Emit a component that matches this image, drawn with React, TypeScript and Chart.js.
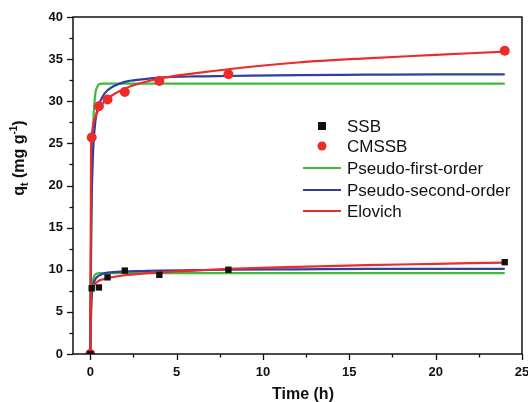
import React, { useEffect, useRef } from "react";
import { Chart, registerables } from "chart.js";

Chart.register(...registerables);

// Experimental data
const timeObs = [0, 0.083, 0.5, 1, 2, 4, 8, 24];
const ssbObs = [0, 7.8, 7.9, 9.1, 9.9, 9.4, 10.0, 10.9];
const cmssbObs = [0, 25.7, 29.4, 30.2, 31.1, 32.4, 33.2, 36.0];

// Model curves
const tFit = [0, 0.05, 0.1, 0.15, 0.2, 0.3, 0.4, 0.5, 0.7, 1, 2, 3, 4, 6, 8, 12, 16, 20, 24];
const cmssbPFO = [0, 12.5, 20.5, 26.0, 28.5, 31.0, 31.7, 32.0, 32.1, 32.1, 32.1, 32.1, 32.1, 32.1, 32.1, 32.1, 32.1, 32.1, 32.1];
const cmssbPSO = [0, 14.6, 20.3, 23.4, 25.4, 27.7, 28.9, 29.6, 30.5, 31.3, 32.3, 32.6, 32.8, 32.95, 33.0, 33.1, 33.15, 33.2, 33.2];
const cmssbElo = [0, 25.0, 26.2, 27.0, 27.5, 28.2, 28.7, 29.1, 29.7, 30.3, 31.5, 32.2, 32.7, 33.3, 33.8, 34.6, 35.1, 35.5, 35.9];
const ssbPFO = [0, 5.0, 7.5, 8.6, 9.1, 9.45, 9.55, 9.6, 9.6, 9.6, 9.6, 9.6, 9.6, 9.6, 9.6, 9.6, 9.6, 9.6, 9.6];
const ssbPSO = [0, 5.5, 7.2, 7.9, 8.4, 8.9, 9.15, 9.3, 9.5, 9.65, 9.8, 9.85, 9.9, 9.95, 10.0, 10.05, 10.1, 10.1, 10.1];
const ssbElo = [0, 7.2, 7.7, 7.95, 8.1, 8.4, 8.55, 8.7, 8.85, 9.0, 9.35, 9.55, 9.7, 9.9, 10.1, 10.35, 10.55, 10.7, 10.85];

const xTicks = [0, 5, 10, 15, 20, 25];
const yTicks = [0, 5, 10, 15, 20, 25, 30, 35, 40];

const GREEN = "#3fba3f";
const BLUE = "#2f3f9f";
const RED = "#ee2b2b";

const legendItems = [
  { label: "SSB", kind: "rect", color: "#111111" },
  { label: "CMSSB", kind: "circle", color: RED },
  { label: "Pseudo-first-order", kind: "line", color: GREEN },
  { label: "Pseudo-second-order", kind: "line", color: BLUE },
  { label: "Elovich", kind: "line", color: RED },
];

const toXY = (xs: number[], ys: number[]) => xs.map((x, i) => ({ x, y: ys[i] }));

const framePlugin = {
  id: "frame",
  afterDraw(chart: any) {
    const { ctx, chartArea: a, scales } = chart;
    const xs = scales.x;
    const ys = scales.y;
    ctx.save();
    ctx.strokeStyle = "#111";
    ctx.lineWidth = 1.5;
    ctx.strokeRect(a.left, a.top, a.right - a.left, a.bottom - a.top);
    ctx.lineWidth = 1.3;
    for (let v = 0; v <= 25; v += 2.5) {
      const px = Math.round(xs.getPixelForValue(v)) + 0.5;
      const len = v % 5 === 0 ? 6 : 3.5;
      ctx.beginPath();
      ctx.moveTo(px, a.bottom);
      ctx.lineTo(px, a.bottom + len);
      ctx.stroke();
    }
    for (let v = 0; v <= 40; v += 2.5) {
      const py = Math.round(ys.getPixelForValue(v)) + 0.5;
      const len = v % 5 === 0 ? 6 : 3.5;
      ctx.beginPath();
      ctx.moveTo(a.left, py);
      ctx.lineTo(a.left - len, py);
      ctx.stroke();
    }
    ctx.fillStyle = "#111";
    ctx.font = "bold 13px 'Liberation Sans', Arial, sans-serif";
    ctx.textAlign = "center";
    ctx.textBaseline = "middle";
    xTicks.forEach((v) => {
      ctx.fillText(String(v), xs.getPixelForValue(v), a.bottom + 18);
    });
    ctx.textAlign = "right";
    yTicks.forEach((v) => {
      ctx.fillText(String(v), a.left - 10, ys.getPixelForValue(v));
    });
    ctx.font = "bold 16px 'Liberation Sans', Arial, sans-serif";
    ctx.textAlign = "center";
    ctx.fillText("Time (h)", 303, 395);
    ctx.translate(20, 158);
    ctx.rotate(-Math.PI / 2);
    const big = "bold 16px 'Liberation Sans', Arial, sans-serif";
    const small = "bold 10px 'Liberation Sans', Arial, sans-serif";
    const parts = [
      { t: "q", f: big, dy: 0 },
      { t: "t", f: small, dy: 5 },
      { t: " (mg g", f: big, dy: 0 },
      { t: "-1", f: small, dy: -6 },
      { t: ")", f: big, dy: 0 },
    ];
    let total = 0;
    parts.forEach((p) => {
      ctx.font = p.f;
      total += ctx.measureText(p.t).width;
    });
    let cx = -total / 2;
    ctx.textAlign = "left";
    parts.forEach((p) => {
      ctx.font = p.f;
      ctx.fillText(p.t, cx, p.dy);
      cx += ctx.measureText(p.t).width;
    });
    ctx.restore();

    ctx.save();
    ctx.font = "17px 'Liberation Sans', Arial, sans-serif";
    ctx.textBaseline = "middle";
    ctx.textAlign = "left";
    const rows = [126, 146, 168, 190, 211];
    legendItems.forEach((it, i) => {
      const y = rows[i];
      ctx.fillStyle = it.color;
      ctx.strokeStyle = it.color;
      if (it.kind === "rect") {
        ctx.fillRect(318, y - 4, 8, 8);
      } else if (it.kind === "circle") {
        ctx.beginPath();
        ctx.arc(322, y, 4.5, 0, Math.PI * 2);
        ctx.fill();
      } else {
        ctx.lineWidth = 2;
        ctx.beginPath();
        ctx.moveTo(303, y);
        ctx.lineTo(341, y);
        ctx.stroke();
      }
      ctx.fillStyle = "#111";
      ctx.fillText(it.label, 347, y + 1);
    });
    ctx.restore();
  },
};

export default function App() {
  const ref = useRef<HTMLCanvasElement>(null);
  useEffect(() => {
    document.body.style.margin = "0";
    const lineDs = (label: string, ys: number[], color: string) => ({
      label,
      data: toXY(tFit, ys),
      showLine: true,
      borderColor: color,
      backgroundColor: color,
      borderWidth: 2.2,
      pointRadius: 0,
      cubicInterpolationMode: "monotone" as const,
    });
    const chart = new Chart(ref.current!, {
      type: "scatter",
      data: {
        datasets: [
          {
            label: "SSB",
            data: toXY(timeObs, ssbObs),
            pointStyle: "rect",
            pointRadius: 4.5,
            backgroundColor: "#111",
            borderColor: "#111",
            borderWidth: 0,
          },
          {
            label: "CMSSB",
            data: toXY(timeObs, cmssbObs),
            pointStyle: "circle",
            pointRadius: 5,
            backgroundColor: RED,
            borderColor: RED,
            borderWidth: 0,
          },
          lineDs("Elovich", ssbElo, RED),
          lineDs("Pseudo-second-order", ssbPSO, BLUE),
          lineDs("Pseudo-first-order", ssbPFO, GREEN),
          lineDs("Elovich", cmssbElo, RED),
          lineDs("Pseudo-second-order", cmssbPSO, BLUE),
          lineDs("Pseudo-first-order", cmssbPFO, GREEN),
        ],
      },
      options: {
        animation: false,
        responsive: false,
        maintainAspectRatio: false,
        layout: { padding: { top: 17, right: 6, left: 0, bottom: 0 } },
        plugins: { legend: { display: false }, tooltip: { enabled: false } },
        scales: {
          x: {
            type: "linear",
            min: -1,
            max: 25,
            grid: { display: false },
            border: { display: false },
            ticks: { display: false },
            afterFit: (s: any) => {
              s.height = 48;
            },
          },
          y: {
            type: "linear",
            min: 0,
            max: 40,
            grid: { display: false },
            border: { display: false },
            ticks: { display: false },
            afterFit: (s: any) => {
              s.width = 73;
            },
          },
        },
      },
      plugins: [framePlugin],
    });
    return () => chart.destroy();
  }, []);
  return <canvas ref={ref} width={528} height={402} style={{ display: "block" }} />;
}
